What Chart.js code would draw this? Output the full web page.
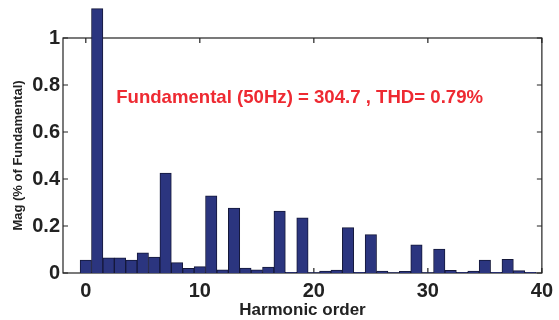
<!DOCTYPE html>
<html>
<head>
<meta charset="utf-8">
<script src="https://cdn.jsdelivr.net/npm/chart.js@4/dist/chart.umd.min.js"></script>
<style>
  html, body { margin: 0; padding: 0; background: #fff; }
  #wrap { width: 559px; height: 320px; }
</style>
</head>
<body>
<div id="wrap"><canvas id="harmChart" width="559" height="320"></canvas></div>
<script>
// harmonic spectrum data
const harmonicOrder = [0, 1, 2, 3, 4, 5, 6, 7, 8, 9, 10, 11, 12, 13, 14, 15, 16, 17, 18, 19,
                       20, 21, 22, 23, 24, 25, 26, 27, 28, 29, 30, 31, 32, 33, 34, 35, 36, 37, 38, 39];
const magnitude = [0.055, 1.125, 0.065, 0.065, 0.055, 0.086, 0.068, 0.425, 0.044, 0.020,
                   0.027, 0.328, 0.013, 0.276, 0.021, 0.013, 0.025, 0.264, 0.003, 0.235,
                   0.002, 0.008, 0.012, 0.193, 0.003, 0.163, 0.008, 0.002, 0.007, 0.120,
                   0.002, 0.102, 0.011, 0.003, 0.008, 0.055, 0.003, 0.058, 0.010, 0.003];
const xTicks = [0, 10, 20, 30, 40];
const yTicks = [0, 0.2, 0.4, 0.6, 0.8, 1];
const infoText = 'Fundamental (50Hz) = 304.7 , THD= 0.79%';

const FONT = '"Liberation Sans", Arial, sans-serif';

// matlab style box with inward ticks, plus the red annotation
const boxPlugin = {
    id: 'boxPlugin',
    beforeDatasetsDraw(chart) {
        const { ctx, chartArea: a, scales: { x, y } } = chart;
        ctx.save();
        ctx.strokeStyle = '#222';
        ctx.lineWidth = 1.2;
        ctx.strokeRect(a.left, a.top, a.right - a.left, a.bottom - a.top);
        ctx.beginPath();
        yTicks.forEach(v => {
            const py = y.getPixelForValue(v);
            ctx.moveTo(a.left, py); ctx.lineTo(a.left + 5, py);
            ctx.moveTo(a.right, py); ctx.lineTo(a.right - 5, py);
        });
        xTicks.forEach(v => {
            const px = x.getPixelForValue(v);
            ctx.moveTo(px, a.top); ctx.lineTo(px, a.top + 5);
            ctx.moveTo(px, a.bottom); ctx.lineTo(px, a.bottom - 5);
        });
        ctx.stroke();
        ctx.restore();
    },
    afterDraw(chart) {
        const { ctx, scales: { x, y } } = chart;
        ctx.save();
        ctx.fillStyle = '#ee2a32';
        ctx.font = 'bold 18.6px ' + FONT;
        ctx.textAlign = 'center';
        ctx.textBaseline = 'middle';
        ctx.fillText(infoText, x.getPixelForValue(18.75), y.getPixelForValue(0.747));
        ctx.restore();
    }
};

const ctx = document.getElementById('harmChart').getContext('2d');
new Chart(ctx, {
    type: 'bar',
    data: {
        datasets: [{
            data: harmonicOrder.map((h, i) => ({ x: h, y: magnitude[i] })),
            backgroundColor: '#2b357f',
            borderColor: '#15183a',
            borderWidth: 1,
            borderSkipped: 'start',
            barPercentage: 1,
            categoryPercentage: 1,
            clip: false
        }]
    },
    options: {
        responsive: false,
        animation: false,
        layout: { padding: { top: 38, right: 13, left: 0, bottom: 0 } },
        plugins: {
            legend: { display: false },
            tooltip: { enabled: false }
        },
        scales: {
            x: {
                type: 'linear',
                min: -2,
                max: 40,
                offset: false,
                grid: { display: false, drawTicks: false },
                border: { display: false },
                afterBuildTicks: (s) => { s.ticks = xTicks.map(v => ({ value: v })); },
                afterFit: (s) => { s.height = 47; },
                ticks: {
                    color: '#222',
                    padding: 6,
                    maxRotation: 0,
                    font: { family: FONT, size: 20, weight: 'bold' }
                },
                title: {
                    display: true,
                    text: 'Harmonic order',
                    color: '#222',
                    padding: { top: 0, bottom: -1 },
                    font: { family: FONT, size: 17, weight: 'bold' }
                }
            },
            y: {
                min: 0,
                max: 1,
                grid: { display: false, drawTicks: false },
                border: { display: false },
                afterBuildTicks: (s) => { s.ticks = yTicks.map(v => ({ value: v })); },
                afterFit: (s) => { s.width = 63; },
                ticks: {
                    color: '#222',
                    padding: 3,
                    font: { family: FONT, size: 20, weight: 'bold' },
                    callback: (v) => String(Math.round(v * 10) / 10)
                },
                title: {
                    display: true,
                    text: 'Mag (% of Fundamental)',
                    color: '#222',
                    padding: { top: 11, bottom: 0 },
                    font: { family: FONT, size: 13, weight: 'bold' }
                }
            }
        }
    },
    plugins: [boxPlugin]
});
</script>
</body>
</html>
